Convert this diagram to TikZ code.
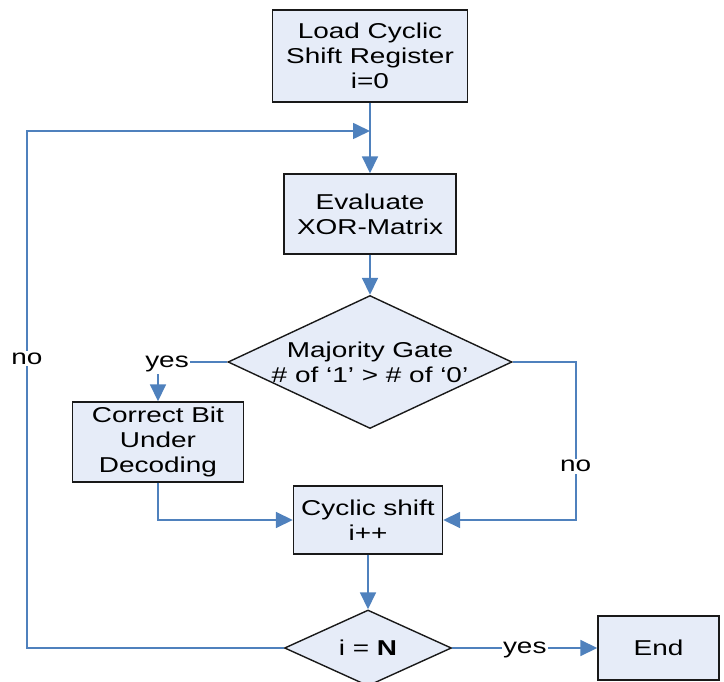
\documentclass[tikz,border=0pt]{standalone}
\usepackage{fontspec}
\setmainfont{Liberation Sans}[FakeStretch=1.3]
\usetikzlibrary{shapes.geometric,arrows.meta}
\definecolor{boxfill}{RGB}{230,236,248}
\definecolor{flowblue}{RGB}{79,129,189}

\begin{document}
\begin{tikzpicture}[x=1pt,y=-1pt,
        font=\fontsize{21.5}{25}\selectfont,
        box/.style={rectangle,draw=black!90,line width=1.4pt,fill=boxfill,align=center,inner sep=0pt},
        test/.style={diamond,draw=black!90,line width=1.4pt,fill=boxfill,align=center,inner sep=0pt},
        flow/.style={draw=flowblue,line width=1.7pt,-{Triangle[length=17pt,width=16pt]}},
        lbl/.style={fill=white,inner sep=1.5pt}]
            \useasboundingbox (0,0) rectangle (724,682);

            \node[box,minimum width=195pt,minimum height=92pt] (load) at (370,56) {Load Cyclic\\Shift Register\\i=0};
            \node[box,minimum width=172pt,minimum height=80pt] (eval) at (370,214) {Evaluate\\XOR-Matrix};
            \node[test,aspect=2.14,minimum width=284pt,minimum height=133pt] (maj) at (370,362) {Majority Gate\\\# of ‘1’ > \# of ‘0’};
            \node[box,minimum width=171pt,minimum height=80pt] (fix) at (158,442) {Correct Bit\\Under\\Decoding};
            \node[box,minimum width=149pt,minimum height=68pt] (shift) at (368,520) {Cyclic shift\\i++};
            \node[test,aspect=2.2,minimum width=167pt,minimum height=76pt] (chk) at (368,648) {i = \textbf{N}};
            \node[box,minimum width=121pt,minimum height=64pt] (end) at (658.5,648) {End};

            \coordinate (merge) at (370,131);
            \coordinate (back) at (27,131);

            \draw[flow,-] (load) -- (merge);
            \draw[flow] (merge) -- (eval);
            \draw[flow] (eval) -- (maj);
            \draw[flow] (maj.west) -| node[lbl,pos=0.5,xshift=9pt,yshift=-2pt] {yes} (fix.north);
            \draw[flow] (fix.south) |- (shift.west);
            \draw[flow] (maj.east) -- ++(63,0) |- node[lbl,pos=0.33] {no} (shift.east);
            \draw[flow] (shift) -- (chk);
            \draw[flow] (chk) -- node[lbl,yshift=-2pt] {yes} (end);
            \draw[flow] (chk.west) -| node[lbl,pos=0.78] {no} (back) -- (merge);

        \end{tikzpicture}
\end{document}
